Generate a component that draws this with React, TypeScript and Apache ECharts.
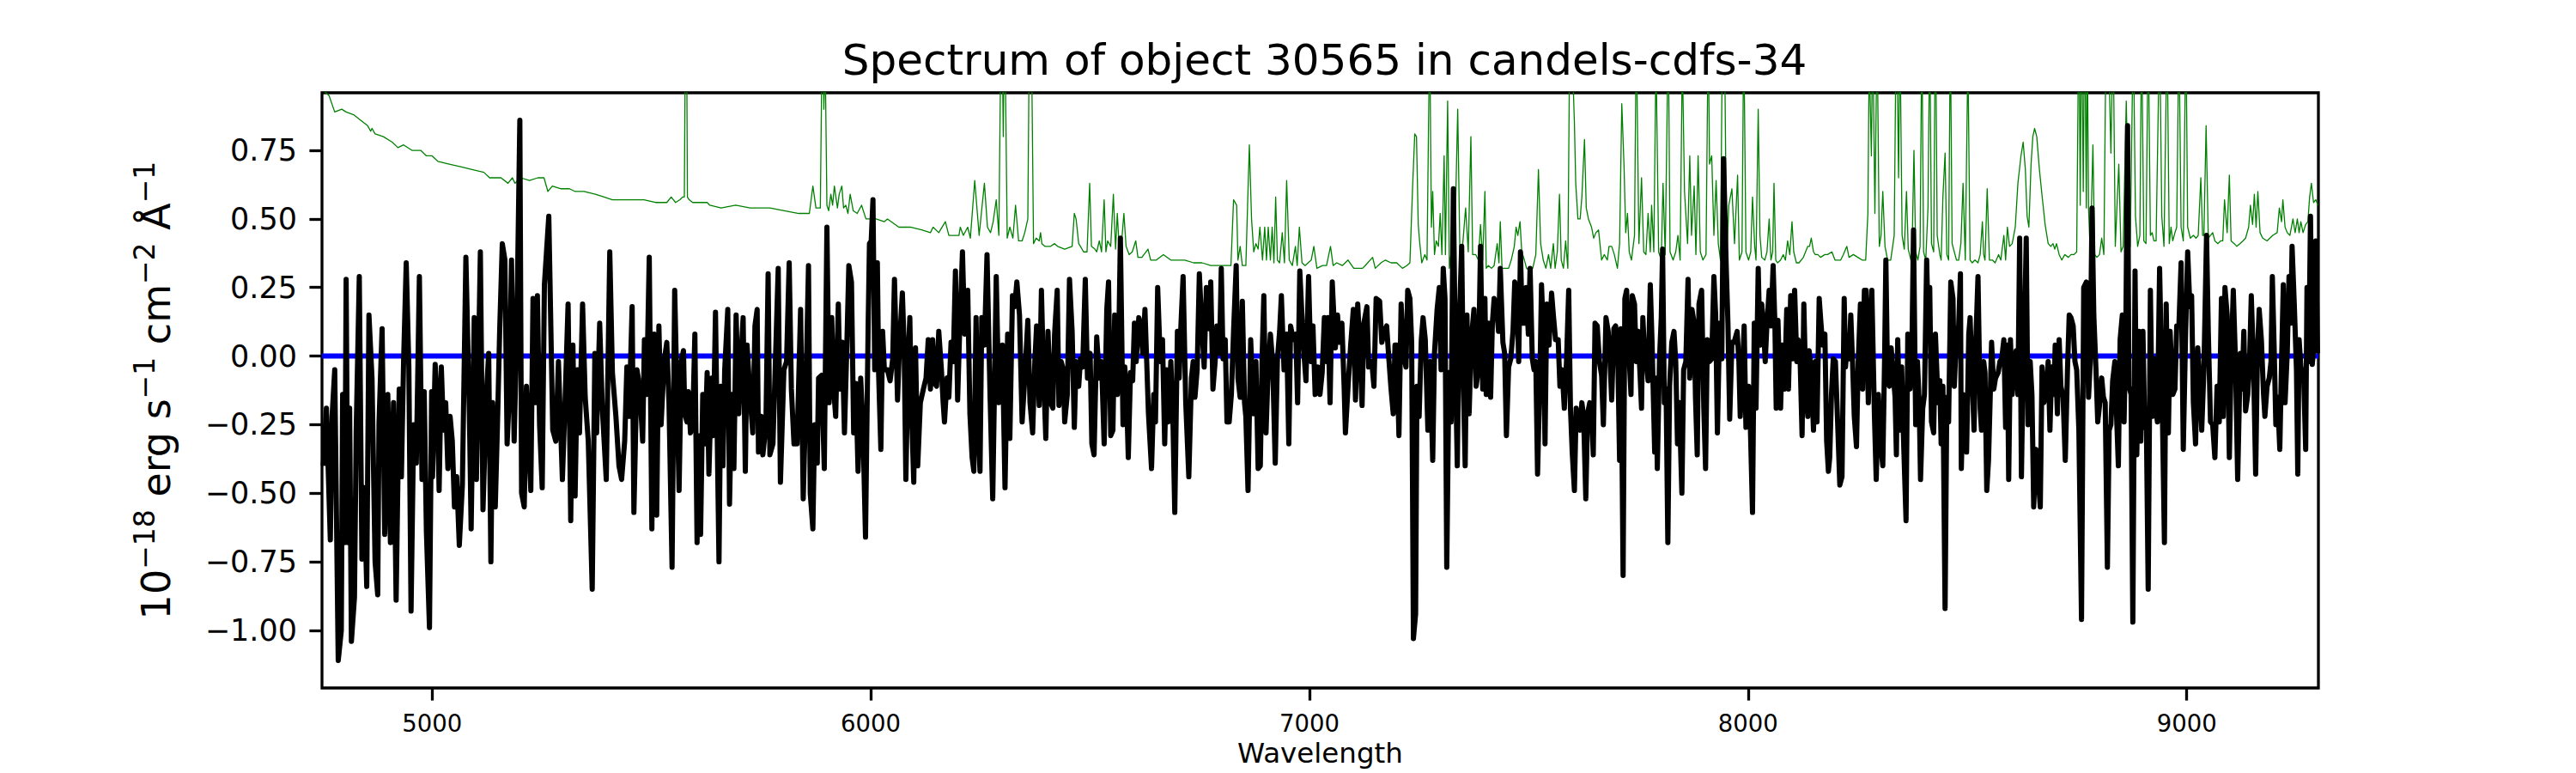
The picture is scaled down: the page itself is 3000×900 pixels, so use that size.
import React, { useEffect, useRef } from "react";
import * as echarts from "echarts";

const FONT = "DejaVu Sans";

const TITLE = "Spectrum of object 30565 in candels-cdfs-34";
const X_LABEL = "Wavelength";
const X_TICKS = [5000, 6000, 7000, 8000, 9000];
const Y_TICKS = [-1, -0.75, -0.5, -0.25, 0, 0.25, 0.5, 0.75];
const X_RANGE = [4749, 9300];
const Y_RANGE = [-1.21, 0.96];

// object spectrum (black), [wavelength, flux]
const object1 = [
  [4752,-0.40],[4759,-0.19],[4768,-0.67],[4772,-0.22],[4778,-0.05],[4786,-1.11],[4793,-1.00],[4796,-0.14],[4801,-0.68],[4804,0.28],[4808,-0.68],[4812,-0.19],[4816,-1.04],[4823,-0.88],[4827,-0.27],[4834,0.29],[4840,-0.74],[4845,-0.48],[4851,-0.84],[4856,0.15],[4863,-0.08],[4870,-0.75],[4876,-0.87],[4879,-0.24],[4886,0.10],[4892,-0.65],[4899,-0.14],[4905,-0.68],[4912,-0.17],[4918,-0.89],[4925,-0.12],[4930,-0.44],[4935,-0.02],[4941,0.34],[4947,-0.04],[4952,-0.93],[4958,-0.25],[4964,-0.39],[4971,0.29],[4977,-0.45],[4982,-0.13],[4987,-0.64],[4994,-0.99],[4999,-0.13],[5001,-0.44],[5007,-0.03],[5012,-0.18],[5016,-0.49],[5021,-0.04],[5026,-0.27],[5031,-0.17],[5036,-0.41],[5041,-0.22],[5046,-0.31],[5051,-0.55],[5056,-0.44],[5062,-0.69],[5069,-0.47],[5077,0.36],[5085,-0.21],[5089,-0.63],[5096,0.14],[5101,-0.45],[5110,0.38],[5116,-0.56],[5124,-0.13],[5129,0.01],[5134,-0.75],[5138,-0.17],[5144,-0.55],[5149,-0.25],[5154,0.09],[5160,0.41],[5166,0.35],[5171,-0.32],[5176,-0.14],[5181,0.35],[5187,-0.31],[5193,0.09],[5200,0.86],[5204,-0.50],[5210,-0.55],[5215,-0.11],[5225,-0.49],[5230,0.21],[5235,-0.17],[5240,0.22],[5245,-0.25],[5251,-0.48],[5256,0.26],[5266,0.51],[5275,-0.27],[5282,-0.31],[5288,-0.02],[5297,-0.45],[5303,-0.17],[5310,0.19],[5316,-0.60],[5321,0.04],[5326,-0.51],[5331,-0.05],[5336,-0.28],[5343,0.19],[5349,-0.15],[5356,-0.31],[5365,-0.85],[5371,0.01],[5375,-0.28],[5382,0.12],[5388,-0.19],[5397,-0.45],[5405,0.38],[5411,-0.06],[5419,-0.22],[5426,-0.40],[5432,-0.45],[5439,-0.31],[5444,-0.04],[5449,-0.22],[5456,0.18],[5460,-0.57],[5467,-0.05],[5473,-0.11],[5480,-0.31],[5484,0.06],[5489,-0.14],[5495,0.36],[5501,-0.63],[5506,0.08],[5512,-0.58],[5517,0.11],[5522,-0.25],[5529,-0.02],[5535,0.05],[5540,-0.17],[5547,-0.77],[5553,0.24]
];

const object2 = [
  [5563,-0.49],[5568,-0.02],[5573,0.02],[5576,-0.21],[5581,-0.24],[5584,-0.13],[5589,-0.28],[5594,-0.25],[5599,0.08],[5604,-0.68],[5607,-0.29],[5612,-0.65],[5617,-0.14],[5622,-0.32],[5627,-0.06],[5631,-0.43],[5637,-0.08],[5641,-0.29],[5646,0.16],[5654,-0.75],[5658,-0.11],[5663,-0.40],[5667,-0.05],[5674,0.17],[5678,-0.54],[5683,-0.14],[5688,-0.41],[5693,0.15],[5699,-0.21],[5704,-0.01],[5709,0.14],[5714,-0.42],[5718,0.04],[5725,-0.15],[5731,-0.28],[5736,0.11],[5741,0.17],[5744,-0.35],[5750,-0.22],[5754,-0.36],[5761,-0.25],[5766,0.30],[5770,-0.36],[5777,-0.32],[5789,0.32],[5794,-0.46],[5802,-0.05],[5808,-0.02],[5814,0.34],[5819,-0.12],[5825,-0.32],[5832,-0.32],[5840,0.17],[5846,-0.52],[5851,-0.21],[5858,0.33],[5862,-0.50],[5868,-0.63],[5872,-0.25],[5878,-0.39],[5881,-0.08],[5888,-0.07],[5894,-0.41],[5900,0.47],[5905,-0.17],[5911,0.14],[5915,-0.11],[5920,-0.22],[5926,0.19],[5930,-0.12],[5935,0.05],[5940,-0.28],[5945,0.01],[5950,0.33],[5956,0.27],[5961,-0.28],[5966,-0.10],[5971,-0.42],[5977,-0.08],[5982,-0.25],[5988,-0.66],[5994,0.11],[5997,0.41],[6001,0.42],[6005,0.57],[6009,-0.05],[6015,0.34],[6018,-0.07],[6023,-0.34],[6027,0.09],[6031,-0.05],[6038,-0.05],[6044,-0.09],[6050,-0.01],[6054,0.28],[6061,-0.16],[6066,0.06],[6072,0.23],[6076,0.04],[6080,-0.45],[6085,-0.02],[6089,0.14],[6093,-0.21],[6098,-0.46],[6102,0.03],[6107,-0.40],[6113,-0.17],[6120,-0.12],[6126,-0.08],[6131,0.06],[6136,-0.12],[6141,0.06],[6146,-0.10],[6150,-0.11],[6155,0.09],[6161,-0.05],[6165,-0.17],[6168,-0.24],[6174,-0.08],[6178,-0.15],[6183,0.05],[6188,-0.02],[6193,0.31],[6198,-0.16],[6202,0.06],[6209,0.38],[6214,0.08],[6221,0.24],[6226,-0.21],[6231,-0.37],[6235,-0.42],[6240,0.14],[6244,-0.24],[6249,-0.42],[6253,0.14],[6259,0.04],[6265,0.37],[6272,-0.15],[6278,-0.52],[6286,0.29],[6292,-0.17],[6300,0.04],[6306,-0.48],[6312,0.08],[6317,-0.30],[6323,0.22],[6328,0.18],[6333,0.27],[6339,0.15],[6345,-0.24],[6351,-0.08],[6358,0.13],[6363,-0.17]
];

const wave3 = [6369,6374,6378,6384,6389,6393,6399,6404,6410,6415,6419,6425,6429,6434,6439,6442,6448,6453,6459,6464,6468,6474,6478,6483,6489,6494,6500,6504,6509,6515,6521,6526,6532,6538,6542,6547,6552,6556,6562,6564,6569,6575,6579,6583,6587,6592,6597,6601,6605,6611,6616,6620,6625,6629,6633,6640,6645,6649,6654,6660,6665,6670,6674,6678,6684,6689,6693,6699,6703,6707,6712,6718,6725,6731,6735,6739,6744,6749,6754,6760,6765,6771,6775,6780,6785,6789,6795,6799,6803,6808,6812,6817,6822,6827,6833,6837,6842,6847,6852,6855,6860,6866,6873,6878,6883,6888,6892,6896,6901,6905,6911,6916,6922,6927,6932,6936,6942,6948,6953,6957,6963,6969,6973,6978,6984,6987,6992,6998,7003,7008,7013,7019,7024,7029,7034,7040,7042,7047,7052,7059,7064,7068,7074,7079,7082,7088,7094,7100,7105,7110,7114,7120,7124,7131,7135,7142,7147,7152,7160,7165];
const flux3 = [-0.28,-0.02,0.11,-0.18,0.24,-0.02,-0.30,0.09,-0.17,-0.19,0.08,0.24,-0.18,-0.02,-0.05,-0.24,-0.14,0.28,0.09,-0.26,-0.02,-0.11,-0.01,-0.04,0.28,-0.08,0.01,-0.32,-0.36,0.07,-0.08,-0.02,-0.32,0.17,0.27,-0.29,-0.27,0.15,-0.14,-0.08,0.43,-0.25,-0.04,-0.14,-0.37,-0.06,-0.09,0.12,-0.02,0.14,0.11,0.01,0.17,-0.02,-0.21,-0.41,-0.14,-0.24,0.25,-0.02,0.06,-0.32,-0.05,-0.24,-0.02,-0.25,-0.57,0.09,-0.08,0.11,0.29,-0.17,-0.44,-0.08,-0.02,-0.15,-0.05,0.30,0.13,-0.04,0.25,0.10,0.27,-0.12,-0.02,0.11,0.01,0.32,-0.01,0.06,-0.24,-0.24,-0.14,0.09,0.33,-0.08,-0.15,0.20,-0.17,-0.22,-0.49,0.06,-0.21,-0.02,-0.41,-0.40,-0.01,0.22,-0.28,-0.09,0.08,-0.02,-0.39,-0.01,0.09,0.22,-0.05,0.08,-0.32,0.11,0.06,0.08,-0.17,0.31,0.11,0.02,-0.09,0.29,-0.02,0.11,-0.14,-0.04,-0.14,-0.06,0.14,-0.02,0.14,-0.17,0.27,0.03,0.15,0.05,0.12,-0.11,-0.28,-0.11,0.04,0.17,-0.16,0.19,0.06,-0.18,0.12,0.18,-0.04,-0.02,-0.11,0.21,0.20,0.05];

const wave4 = [7171,7176,7181,7186,7191,7195,7199,7204,7209,7214,7220,7224,7229,7233,7237,7242,7245,7250,7255,7259,7264,7270,7275,7281,7285,7291,7296,7300,7305,7309,7313,7318,7323,7328,7333,7337,7341,7347,7351,7355,7359,7364,7369,7375,7380,7385,7390,7395,7400,7403,7408,7413,7417,7421,7426,7431,7435,7441,7445,7449,7454,7459,7464,7468,7473,7477,7481,7485,7490,7494,7499,7503,7508,7512,7516,7520,7526,7529,7533,7537,7541,7546,7552,7556,7561,7567,7571,7576,7581,7586,7591,7595,7599,7604,7608,7612,7617,7621,7625,7630,7634,7639,7643,7647,7651,7656,7661,7666,7670,7676,7681,7685,7689,7694,7698,7703,7707,7710,7715,7719,7723,7728,7733,7736,7741,7745,7749,7754,7757,7760,7764,7768,7772,7777,7781,7787,7790,7793,7798,7802,7805,7809,7813,7817,7821,7826,7831,7835,7839,7843,7849,7853,7858,7863,7867,7872,7877,7880,7884,7888,7894,7899,7903,7907,7912,7917,7922,7926,7930,7935,7940,7944,7950,7954,7958,7963,7968];
const flux4 = [0.09,0.11,-0.01,-0.12,-0.21,0.04,0.04,-0.29,0.19,0.01,-0.04,0.24,0.21,0.05,-1.03,-0.94,-0.11,-0.22,0.06,0.14,0.06,-0.27,-0.02,-0.38,0.01,0.17,0.25,-0.05,0.32,0.21,-0.77,-0.06,-0.24,0.61,-0.05,-0.40,0.09,0.40,-0.11,-0.40,0.15,-0.21,0.06,0.17,-0.11,-0.05,0.40,-0.12,0.21,-0.14,0.12,-0.15,0.12,0.21,0.19,0.09,0.32,0.05,0.01,-0.29,-0.04,-0.01,0.09,0.27,0.22,-0.02,0.38,0.12,0.12,0.25,0.08,0.32,-0.01,-0.05,-0.02,-0.43,-0.02,0.26,0.09,-0.32,0.19,0.04,0.23,0.15,0.06,0.06,-0.11,-0.05,-0.19,-0.02,0.24,-0.19,-0.35,-0.49,-0.19,-0.25,-0.27,-0.17,-0.22,-0.52,-0.21,-0.17,-0.21,-0.36,0.12,0.11,-0.02,-0.07,-0.25,0.14,0.09,-0.01,-0.16,0.10,0.11,-0.01,-0.38,0.10,-0.80,0.21,0.24,0.02,-0.14,0.22,0.19,-0.02,0.09,-0.08,-0.19,0.14,0.01,-0.02,-0.09,0.26,0.05,-0.35,-0.08,-0.41,-0.01,0.14,0.39,-0.17,-0.12,-0.68,-0.11,0.05,0.09,-0.02,-0.32,-0.17,-0.50,-0.05,-0.02,0.28,-0.08,0.17,0.12,-0.15,-0.36,0.19,0.24,-0.19,-0.41,0.06,-0.02,-0.01,0.29,0.15,-0.28,0.12,-0.01,0.72,0.33,0.12,-0.23,0.05,0.05];

const wave5 = [7975,7979,7982,7987,7991,7995,8001,8005,8010,8014,8018,8023,8027,8031,8035,8039,8043,8048,8052,8057,8061,8064,8068,8074,8078,8083,8088,8092,8097,8101,8106,8111,8114,8118,8123,8127,8131,8136,8139,8144,8149,8153,8157,8162,8166,8170,8175,8179,8183,8186,8190,8194,8199,8204,8209,8214,8219,8222,8227,8230,8234,8238,8242,8247,8251,8256,8261,8265,8269,8274,8278,8282,8288,8292,8297,8302,8307,8311,8314,8318,8322,8326,8330,8335,8338,8341,8346,8350,8354,8360,8364,8369,8373,8377,8382,8386,8390,8393,8398,8402,8407,8410,8414,8418,8423,8427,8433,8437,8440,8444,8449,8453,8457,8462,8467,8470,8475,8480,8484,8486,8490,8495,8498,8503,8506,8511,8515,8519,8524,8529,8532,8537,8540,8544,8548,8552,8555,8560,8564,8570,8574,8578,8583,8587,8591,8594,8598,8602,8607,8611,8615,8619,8623,8627,8630,8634,8638,8643,8647,8651,8656,8661,8666,8670,8674,8679,8684,8688,8692,8697,8700,8705,8709,8713,8718,8723,8728,8732,8736,8741,8745,8749,8754,8760,8765,8771];
const flux5 = [0.09,-0.02,-0.22,-0.05,0.11,-0.26,-0.11,-0.25,-0.57,0.12,-0.19,0.32,0.04,0.19,0.11,-0.02,0.12,0.24,0.11,0.33,0.12,-0.19,0.13,-0.19,0.04,-0.12,0.17,-0.12,0.22,-0.01,0.24,-0.02,0.06,0.02,-0.29,0.19,-0.08,-0.22,0.02,-0.05,-0.27,-0.02,-0.24,0.21,0.12,0.04,0.08,-0.31,-0.42,-0.37,-0.14,-0.01,-0.02,-0.24,-0.47,-0.44,0.21,-0.04,0.06,-0.01,0.15,-0.02,-0.22,-0.33,-0.02,0.19,-0.12,0.24,0.24,-0.17,0.09,0.24,-0.22,-0.45,-0.14,-0.32,-0.40,-0.02,0.35,-0.09,-0.11,0.03,-0.05,-0.15,-0.36,0.06,-0.27,-0.04,-0.29,-0.60,0.08,-0.12,-0.02,0.46,-0.25,-0.02,-0.17,-0.45,-0.19,-0.14,0.35,0.14,0.25,-0.24,-0.28,0.08,-0.17,-0.09,-0.32,-0.11,-0.92,-0.15,-0.24,0.27,0.21,-0.11,0.08,0.11,0.30,-0.41,-0.14,-0.19,-0.35,0.08,0.14,-0.09,-0.27,0.05,0.29,-0.19,-0.27,-0.02,-0.06,-0.49,-0.38,-0.14,0.05,-0.12,-0.08,-0.06,-0.02,-0.01,0.06,-0.26,0.04,-0.45,0.06,-0.14,-0.02,0.02,-0.14,0.43,-0.44,-0.02,0.09,0.43,-0.25,-0.02,-0.14,-0.55,-0.34,-0.44,-0.55,-0.04,-0.17,-0.14,-0.02,-0.27,-0.04,-0.14,0.04,-0.21,0.06,-0.11,-0.15,-0.38,-0.05,0.15,0.14,0.11,-0.02,-0.05,-0.27,-0.96,0.25,0.27];

const wave6 = [8776,8780,8784,8788,8793,8797,8801,8806,8810,8814,8819,8823,8827,8831,8836,8840,8844,8848,8853,8857,8861,8865,8868,8873,8877,8882,8886,8891,8895,8900,8904,8908,8912,8917,8921,8925,8929,8933,8938,8944,8949,8953,8958,8962,8968,8973,8977,8982,8987,8992,8997,9002,9007,9011,9015,9020,9025,9030,9034,9039,9045,9049,9054,9059,9064,9069,9074,9079,9083,9087,9092,9097,9101,9106,9111,9116,9122,9126,9130,9134,9139,9143,9147,9152,9157,9161,9165,9170,9175,9178,9183,9188,9192,9195,9199,9203,9207,9212,9216,9220,9224,9229,9233,9237,9240,9245,9250,9253,9256,9261,9266,9271,9274,9278,9282,9286,9290,9294,9298];
const flux6 = [-0.15,-0.02,0.54,0.15,-0.05,-0.24,-0.18,-0.08,-0.15,-0.17,-0.77,-0.27,-0.25,-0.09,-0.02,-0.22,-0.40,0.06,0.15,-0.24,0.09,0.84,-0.11,-0.14,-0.97,0.31,-0.36,0.09,-0.31,0.09,-0.25,-0.27,-0.85,0.24,-0.22,-0.01,-0.18,-0.24,0.32,-0.17,-0.68,0.19,-0.28,0.09,-0.14,-0.12,0.11,0.11,0.34,-0.34,0.06,0.38,0.18,0.22,-0.17,-0.32,0.03,-0.11,-0.27,-0.05,0.44,0.09,-0.24,-0.25,-0.37,-0.11,-0.24,0.21,-0.22,0.25,0.15,-0.37,-0.02,0.24,-0.02,-0.45,0.01,-0.12,0.09,-0.20,-0.14,-0.02,0.22,-0.02,-0.43,0.01,0.17,0.06,-0.14,-0.22,-0.11,-0.08,-0.02,0.29,0.04,-0.25,-0.15,-0.34,-0.02,0.26,-0.17,0.01,0.29,0.12,0.40,0.19,-0.05,-0.43,0.06,-0.06,-0.05,-0.34,0.25,-0.02,0.51,-0.03,0.04,0.42,0.01];

// second spectrum (green), [wavelength, value]
const sky1 = [
  [4751,0.97],[4765,0.95],[4778,0.89],[4794,0.90],[4804,0.89],[4821,0.88],[4837,0.86],[4853,0.84],[4860,0.82],[4863,0.83],[4870,0.81],[4889,0.80],[4909,0.78],[4922,0.76],[4935,0.77],[4954,0.75],[4964,0.75],[4974,0.75],[4987,0.73],[5000,0.73],[5013,0.71],[5039,0.70],[5065,0.69],[5091,0.68],[5118,0.67],[5131,0.65],[5157,0.65],[5173,0.63],[5183,0.65],[5189,0.63],[5202,0.65],[5222,0.64],[5241,0.65],[5255,0.65],[5264,0.60],[5274,0.62],[5294,0.61],[5313,0.61],[5326,0.60],[5346,0.60],[5372,0.59],[5392,0.58],[5411,0.57],[5431,0.57],[5457,0.57],[5483,0.57],[5509,0.56],[5535,0.56],[5545,0.58],[5555,0.56]
];
const sky2 = [
  [5565,0.57],[5571,0.58],[5575,0.58],[5579,1.6],[5582,0.58],[5586,0.57],[5594,0.56],[5607,0.56],[5627,0.56],[5633,0.55],[5659,0.54],[5692,0.55],[5725,0.54],[5770,0.54],[5803,0.53],[5836,0.52],[5860,0.52],[5868,0.62],[5875,0.54],[5885,0.54],[5890,1.3],[5893,0.9],[5896,1.1],[5900,0.55],[5904,0.53],[5909,0.59],[5913,0.55],[5917,0.62],[5924,0.54],[5928,0.59],[5934,0.62],[5938,0.54],[5943,0.55],[5948,0.52],[5953,0.59],[5960,0.53],[5969,0.52],[5979,0.55],[5989,0.50],[6012,0.50],[6031,0.49],[6038,0.50],[6064,0.47],[6090,0.47],[6116,0.46],[6136,0.45],[6142,0.47],[6155,0.45],[6170,0.49],[6178,0.44],[6201,0.44],[6204,0.47],[6211,0.44],[6221,0.47],[6227,0.43],[6237,0.64],[6247,0.44],[6259,0.63],[6266,0.47],[6273,0.45],[6279,0.49],[6286,0.57],[6292,0.44],[6298,1.4],[6302,0.8],[6305,1.3],[6311,0.43],[6317,0.47],[6324,0.43],[6330,0.55],[6337,0.42],[6345,0.42],[6351,0.45],[6358,0.50]
];
const sky3 = [
  [6362,1.3],[6366,1.2],[6371,0.41],[6377,0.43],[6384,0.42],[6387,0.45],[6390,0.41],[6397,0.40],[6410,0.40],[6419,0.41],[6426,0.40],[6442,0.39],[6459,0.40],[6464,0.52],[6468,0.50],[6474,0.41],[6478,0.40],[6485,0.38],[6493,0.38],[6499,0.63],[6503,0.40],[6511,0.39],[6515,0.38],[6521,0.42],[6526,0.38],[6532,0.57],[6536,0.38],[6540,0.42],[6547,0.40],[6553,0.59],[6558,0.39],[6562,0.52],[6566,0.40],[6571,0.40],[6577,0.52],[6582,0.40],[6589,0.37],[6596,0.38],[6604,0.42],[6609,0.36],[6618,0.36],[6632,0.39],[6638,0.35],[6651,0.35],[6667,0.37],[6684,0.35],[6700,0.35],[6716,0.35],[6736,0.34],[6755,0.34],[6775,0.33],[6801,0.33],[6821,0.33],[6827,0.57],[6834,0.55],[6837,0.35],[6842,0.40],[6847,0.33],[6855,0.33],[6863,0.77],[6868,0.50],[6873,0.38],[6878,0.41],[6883,0.39],[6887,0.47],[6893,0.35],[6898,0.47],[6902,0.35],[6906,0.47],[6911,0.35],[6915,0.47],[6919,0.34],[6923,0.58],[6927,0.35],[6932,0.34],[6938,0.45],[6943,0.34],[6948,0.64],[6954,0.35],[6961,0.33],[6968,0.40],[6972,0.33],[6977,0.47],[6983,0.34],[6990,0.33],[7004,0.35],[7010,0.40],[7017,0.32],[7030,0.33],[7039,0.33],[7048,0.40],[7054,0.33],[7062,0.34],[7075,0.33],[7088,0.35],[7101,0.32],[7121,0.32],[7127,0.33],[7144,0.36],[7150,0.32],[7163,0.34]
];
const sky4 = [
  [7173,0.35],[7186,0.34],[7199,0.34],[7212,0.32],[7222,0.33],[7229,0.34],[7235,0.61],[7240,0.81],[7244,0.80],[7248,0.48],[7251,0.42],[7256,0.34],[7263,0.37],[7268,0.35],[7274,1.2],[7278,0.47],[7281,0.60],[7285,0.37],[7289,0.42],[7294,0.40],[7298,0.52],[7302,0.37],[7307,0.73],[7310,0.37],[7315,0.93],[7319,0.32],[7323,0.38],[7327,0.35],[7333,0.54],[7338,0.90],[7343,0.37],[7349,0.40],[7356,0.54],[7362,0.38],[7368,0.80],[7372,0.37],[7379,0.37],[7385,0.35],[7390,0.48],[7395,0.35],[7400,0.60],[7403,0.32],[7408,0.33],[7415,0.32],[7421,0.33],[7428,0.41],[7432,0.34],[7435,0.49],[7439,0.32],[7444,0.32],[7454,0.32],[7460,0.35],[7467,0.40],[7471,0.47],[7475,0.44],[7480,0.49],[7484,0.38],[7490,0.35],[7495,0.32],[7503,0.31],[7509,0.32],[7516,0.37],[7522,0.68],[7527,0.41],[7533,0.35],[7539,0.32],[7545,0.37],[7550,0.32],[7556,0.41],[7560,0.32],[7565,0.38],[7570,0.59],[7574,0.35],[7579,0.32],[7584,0.42],[7589,0.32],[7594,1.3],[7599,1.1],[7604,0.85],[7607,0.63],[7612,0.50],[7617,0.50],[7621,0.58],[7627,0.79],[7631,0.54],[7636,0.50],[7643,0.47],[7648,0.43],[7653,0.45],[7659,0.46],[7666,0.35],[7672,0.37],[7679,0.35],[7683,0.40],[7689,0.40],[7695,0.37],[7702,0.32],[7707,0.41],[7712,0.92],[7717,0.70],[7721,0.45],[7725,0.52],[7729,0.38],[7734,0.35],[7741,0.44],[7745,1.2],[7751,0.41],[7757,0.65],[7762,0.38],[7767,0.37],[7772,0.52],[7777,0.38],[7780,0.55],[7785,0.38],[7790,1.1],[7796,0.38],[7802,0.35],[7806,0.63],[7811,0.37],[7818,1.2],[7822,0.38],[7829,0.35],[7835,0.38],[7840,0.44],[7845,0.35],[7850,1.1],[7855,0.60],[7862,0.41],[7867,0.73],[7871,0.44],[7877,0.62],[7881,0.37],[7886,0.73],[7891,0.38],[7897,0.35],[7904,0.37],[7909,1.2],[7912,0.70],[7917,0.73],[7922,0.44],[7927,0.64],[7932,0.41],[7937,0.35],[7942,1.3],[7946,1.2],[7951,0.35],[7956,0.55],[7963,0.61]
];
const sky5 = [
  [7969,0.41],[7976,0.66],[7980,0.35],[7986,0.38],[7990,1.2],[7995,0.38],[8001,0.35],[8006,0.38],[8010,0.58],[8015,0.40],[8018,0.35],[8023,0.90],[8027,0.44],[8031,0.36],[8038,0.35],[8043,0.38],[8048,0.50],[8052,0.35],[8056,0.38],[8059,0.63],[8063,0.35],[8067,0.34],[8074,0.35],[8080,0.37],[8085,0.35],[8090,0.42],[8095,0.37],[8100,0.49],[8104,0.38],[8110,0.34],[8116,0.34],[8126,0.36],[8136,0.40],[8140,0.40],[8144,0.43],[8149,0.38],[8153,0.37],[8159,0.37],[8165,0.36],[8175,0.37],[8181,0.37],[8191,0.38],[8198,0.35],[8211,0.35],[8217,0.37],[8225,0.40],[8230,0.36],[8240,0.37],[8250,0.36],[8260,0.35],[8268,0.35],[8273,0.52],[8276,1.1],[8281,0.73],[8284,1.2],[8289,0.52],[8294,1.2],[8299,0.40],[8303,0.44],[8307,0.60],[8312,0.40],[8318,0.35],[8325,0.35],[8333,0.44],[8338,1.3],[8343,0.65],[8346,1.2],[8351,0.44],[8356,0.39],[8361,0.60],[8365,0.39],[8371,0.35],[8374,0.41],[8378,0.75],[8382,0.38],[8387,0.35],[8392,0.40],[8396,1.2],[8400,0.38],[8405,0.35],[8410,0.54],[8414,1.2],[8418,0.41],[8423,0.38],[8427,1.3],[8431,0.44],[8437,0.37],[8440,0.35],[8444,0.58],[8449,0.74],[8453,0.37],[8457,0.35],[8461,1.2],[8465,0.41],[8470,0.38],[8475,0.35],[8480,0.35],[8485,0.41],[8490,0.63],[8495,0.35],[8501,1.1],[8506,0.35],[8511,0.34],[8517,0.35],[8524,0.34],[8529,0.37],[8534,0.49],[8537,0.37],[8540,0.35],[8545,0.61],[8550,0.35],[8557,0.35],[8563,0.34],[8571,0.37],[8576,0.35],[8583,0.44],[8587,0.35],[8591,0.47],[8596,0.40],[8602,0.41],[8609,0.47],[8615,0.63],[8622,0.73],[8627,0.78],[8632,0.68],[8636,0.51],[8640,0.47],[8645,0.70],[8649,0.80],[8653,0.83],[8658,0.80],[8664,0.68],[8671,0.57],[8677,0.48],[8684,0.41],[8690,0.40],[8695,0.41],[8699,0.39],[8703,0.41],[8709,0.37],[8715,0.35],[8722,0.37],[8730,0.36],[8736,0.37],[8743,0.37],[8749,0.38],[8754,1.3],[8757,0.55],[8760,1.3],[8764,0.6],[8767,1.3],[8771,0.54],[8773,1.2],[8776,0.54]
];
const sky6 = [
  [8780,0.37],[8786,0.77],[8790,0.37],[8795,0.36],[8801,0.37],[8806,0.43],[8811,0.37],[8816,1.2],[8822,1.1],[8827,0.74],[8832,1.2],[8837,0.40],[8845,0.70],[8850,0.38],[8855,0.40],[8862,0.93],[8867,0.51],[8871,0.40],[8878,1.2],[8883,0.51],[8888,0.40],[8893,0.44],[8897,1.2],[8902,0.42],[8907,0.41],[8912,1.2],[8917,0.44],[8921,0.45],[8925,0.42],[8930,0.42],[8938,1.2],[8943,0.51],[8948,0.40],[8955,1.2],[8960,0.41],[8964,0.47],[8968,0.42],[8973,0.45],[8977,0.47],[8982,1.2],[8987,0.47],[8992,0.42],[8998,1.2],[9002,0.47],[9008,0.43],[9015,0.44],[9021,0.43],[9026,0.44],[9032,0.65],[9036,0.44],[9039,0.44],[9044,0.84],[9049,0.43],[9054,0.44],[9059,0.45],[9064,0.42],[9071,0.41],[9077,0.42],[9082,0.42],[9086,0.57],[9092,0.45],[9097,0.66],[9101,0.42],[9108,0.41],[9114,0.40],[9121,0.41],[9128,0.42],[9134,0.43],[9141,0.47],[9145,0.55],[9150,0.48],[9154,0.59],[9158,0.47],[9162,0.60],[9167,0.45],[9173,0.43],[9183,0.42],[9196,0.44],[9206,0.45],[9211,0.54],[9216,0.49],[9219,0.57],[9224,0.47],[9229,0.45],[9235,0.44],[9242,0.50],[9247,0.45],[9252,0.50],[9256,0.45],[9260,0.49],[9265,0.45],[9271,0.48],[9276,0.49],[9280,0.58],[9284,0.63],[9289,0.56],[9294,0.57],[9299,0.55]
];

// zero level (blue)
const zeroWave = [4749, 9300];
const zeroFlux = [0, 0];

const zip = (w: number[], f: number[]) => w.map((x, i) => [x, f[i]]);

const fmtY = (v: number) => (v < 0 ? "\u2212" : "") + Math.abs(v).toFixed(2);

export default function App() {
  const ref = useRef<HTMLDivElement>(null);

  useEffect(() => {
    document.body.style.margin = "0";
    if (!ref.current) return;
    const chart = echarts.init(ref.current, undefined, { renderer: "svg" });

    const objectData = [
      ...object1,
      ...object2,
      ...zip(wave3, flux3),
      ...zip(wave4, flux4),
      ...zip(wave5, flux5),
      ...zip(wave6, flux6),
    ];
    const skyData = [...sky1, ...sky2, ...sky3, ...sky4, ...sky5, ...sky6];
    const zeroData = zip(zeroWave, zeroFlux);

    chart.setOption({
      animation: false,
      backgroundColor: "#ffffff",
      title: {
        text: TITLE,
        left: 1537.5,
        top: 40,
        textAlign: "center",
        textStyle: { fontFamily: FONT, fontSize: 50, fontWeight: "normal", color: "#000" },
      },
      grid: {
        left: 375,
        right: 300,
        top: 108,
        bottom: 99,
        show: true,
        borderColor: "#000",
        borderWidth: 3.3,
        backgroundColor: "transparent",
      },
      xAxis: {
        type: "value",
        min: X_RANGE[0],
        max: X_RANGE[1],
        axisLine: { show: false, onZero: false },
        splitLine: { show: false },
        axisTick: {
          show: true,
          inside: false,
          length: 14.6,
          customValues: X_TICKS,
          lineStyle: { color: "#000", width: 3.3 },
        },
        axisLabel: {
          customValues: X_TICKS,
          margin: 27,
          fontFamily: FONT,
          fontSize: 27.5,
          color: "#000",
          formatter: (v: number) => String(v),
        },
        name: X_LABEL,
        nameLocation: "middle",
        nameGap: 59,
        nameTextStyle: { fontFamily: FONT, fontSize: 32.5, color: "#000" },
      },
      yAxis: {
        type: "value",
        min: Y_RANGE[0],
        max: Y_RANGE[1],
        axisLine: { show: false, onZero: false },
        splitLine: { show: false },
        axisTick: {
          show: true,
          inside: false,
          length: 14.6,
          customValues: Y_TICKS,
          lineStyle: { color: "#000", width: 3.3 },
        },
        axisLabel: {
          customValues: Y_TICKS,
          margin: 29,
          fontFamily: FONT,
          fontSize: 35,
          color: "#000",
          formatter: fmtY,
        },
        name: "{n|10}{s|\u221218}{n| erg s}{s|\u22121}{n| cm}{s|\u22122}{n| \u00c5}{s|\u22121}",
        nameLocation: "middle",
        nameRotate: 90,
        nameGap: 163,
        nameTextStyle: {
          fontFamily: FONT,
          fontSize: 46,
          color: "#000",
          rich: {
            n: { fontFamily: FONT, fontSize: 46, lineHeight: 60, color: "#000" },
            s: { fontFamily: FONT, fontSize: 33, lineHeight: 33, verticalAlign: "top", color: "#000" },
          },
        },
      },
      series: [
        {
          type: "line",
          data: skyData,
          symbol: "none",
          clip: true,
          lineStyle: { color: "#008000", width: 1.3, join: "round" },
        },
        {
          type: "line",
          data: zeroData,
          symbol: "none",
          clip: true,
          lineStyle: { color: "#0000ff", width: 6 },
        },
        {
          type: "line",
          data: objectData,
          symbol: "none",
          clip: true,
          lineStyle: { color: "#000000", width: 6, join: "round" },
        },
      ],
    });

    return () => chart.dispose();
  }, []);

  return <div ref={ref} style={{ width: 3000, height: 900 }} />;
}
